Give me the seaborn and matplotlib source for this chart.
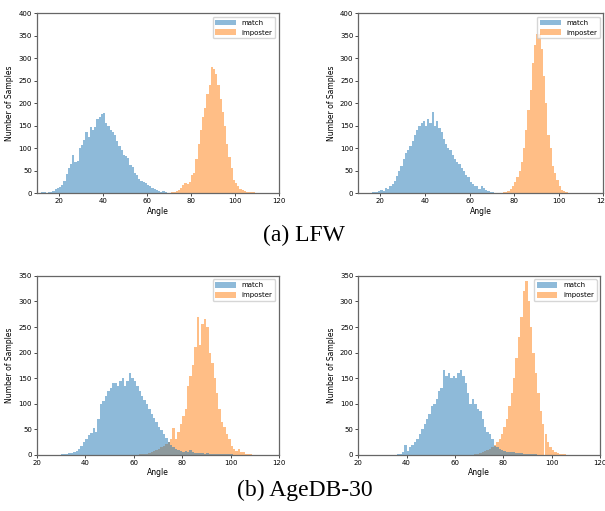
import numpy as np
import pandas as pd
import seaborn as sns
import matplotlib
matplotlib.use("Agg")
import matplotlib.pyplot as plt

# Histogram counts per 1-degree bin
# (a) LFW, left
lfw1_match_start = 12
lfw1_match = [2, 2, 1, 2, 3, 5, 10, 12, 14, 18, 28, 42, 55, 65, 85, 70, 72, 100, 108, 118,
              135, 125, 148, 140, 148, 165, 170, 175, 178, 155, 150, 140, 135, 130, 115, 105,
              95, 85, 82, 78, 62, 58, 45, 40, 32, 28, 25, 22, 18, 15, 12, 10, 8, 5, 3, 4, 2, 1, 1]
lfw1_imp_start = 70
lfw1_imp = [1, 2, 3, 5, 8, 12, 18, 22, 20, 25, 40, 45, 75, 110, 140, 170, 190, 220, 240, 280,
            275, 265, 240, 210, 180, 150, 110, 80, 55, 30, 22, 15, 10, 8, 5, 3, 2, 2, 2, 1, 1]

# (a) LFW, right
lfw2_match_start = 14
lfw2_match = [1, 1, 2, 2, 3, 5, 8, 5, 12, 10, 15, 20, 28, 38, 50, 60, 75, 90, 95, 105, 115,
              130, 140, 150, 155, 160, 150, 165, 155, 180, 150, 160, 145, 135, 120, 110, 100,
              95, 85, 75, 70, 65, 55, 50, 40, 35, 25, 20, 15, 15, 10, 15, 12, 8, 5, 3, 2, 1]
lfw2_imp_start = 74
lfw2_imp = [1, 2, 3, 5, 10, 15, 25, 35, 50, 70, 100, 140, 185, 230, 290, 330, 355, 355, 320,
            260, 200, 130, 100, 60, 45, 30, 15, 8, 5, 3, 1]

# (b) AgeDB-30, left
age1_match_start = 30
age1_match = [1, 1, 2, 3, 4, 6, 8, 12, 18, 25, 30, 38, 42, 52, 45, 70, 100, 105, 115, 125, 130,
              140, 140, 135, 145, 150, 135, 145, 160, 150, 145, 135, 125, 115, 108, 100, 90,
              80, 72, 65, 55, 48, 40, 33, 25, 20, 15, 12, 10, 8, 6, 8, 5, 10, 6, 4, 3, 4, 3,
              2, 3, 2, 2, 2, 1, 2, 1, 1, 1, 1, 1]
age1_imp_start = 62
age1_imp = [1, 1, 2, 2, 3, 5, 7, 10, 12, 15, 18, 22, 25, 30, 52, 30, 45, 60, 75, 90, 135, 155,
            175, 210, 270, 215, 255, 265, 250, 200, 180, 150, 120, 90, 65, 55, 40, 30, 18, 12,
            8, 12, 5, 5, 2, 1, 1]

# (b) AgeDB-30, right
age2_match_start = 36
age2_match = [1, 2, 5, 20, 8, 15, 20, 25, 30, 40, 50, 60, 70, 80, 95, 100, 110, 125, 130, 165,
              155, 160, 150, 155, 150, 160, 165, 155, 140, 120, 100, 110, 100, 90, 85, 70, 55,
              45, 40, 30, 18, 15, 12, 10, 8, 6, 5, 6, 5, 4, 3, 3, 2, 2, 2, 1, 1, 1]
age2_imp_start = 68
age2_imp = [1, 2, 3, 5, 8, 10, 12, 15, 20, 25, 30, 40, 55, 70, 95, 120, 150, 190, 230, 270,
            320, 340, 300, 250, 200, 160, 120, 85, 60, 40, 25, 15, 10, 5, 3, 2, 1, 1]

panels = [
    (lfw1_match_start, lfw1_match, lfw1_imp_start, lfw1_imp, (10, 120), (0, 400)),
    (lfw2_match_start, lfw2_match, lfw2_imp_start, lfw2_imp, (10, 120), (0, 400)),
    (age1_match_start, age1_match, age1_imp_start, age1_imp, (20, 120), (0, 350)),
    (age2_match_start, age2_match, age2_imp_start, age2_imp, (20, 120), (0, 350)),
]
positions = [
    [0.061, 0.622, 0.400, 0.352],
    [0.592, 0.622, 0.405, 0.352],
    [0.061, 0.110, 0.400, 0.350],
    [0.592, 0.110, 0.400, 0.350],
]


def to_frame(start, counts, label):
    centers = start + np.arange(len(counts)) + 0.5
    return pd.DataFrame({"angle": centers, "count": counts, "kind": label})


fig = plt.figure(figsize=(6.05, 5.11), dpi=100)
plt.rcParams["font.size"] = 5

for (ms, m, is_, im, xlim, ylim), pos in zip(panels, positions):
    ax = fig.add_axes(pos)
    df = pd.concat([to_frame(ms, m, "match"), to_frame(is_, im, "imposter")],
                   ignore_index=True)
    lo = min(ms, is_)
    hi = max(ms + len(m), is_ + len(im))
    sns.histplot(data=df, x="angle", weights="count", hue="kind",
                 binwidth=1, binrange=(lo, hi),
                 element="bars", linewidth=0, alpha=0.5, multiple="layer",
                 palette={"match": "#1f77b4", "imposter": "#ff7f0e"}, ax=ax)
    ax.set_xlim(*xlim)
    ax.set_ylim(*ylim)
    ax.set_xlabel("Angle", fontsize=5.5, labelpad=2)
    ax.set_ylabel("Number of Samples", fontsize=5.5, labelpad=3)
    ax.tick_params(labelsize=5, length=2, width=0.5, pad=1.5)
    for s in ax.spines.values():
        s.set_linewidth(0.9)
        s.set_color("#666666")
    sns.move_legend(ax, "upper right", title=None, fontsize=5, frameon=True,
                    borderpad=0.4, handlelength=3.0, handleheight=0.9)

fig.text(0.503, 0.540, "(a) LFW", ha="center", va="center",
         family="Liberation Serif", fontsize=17)
fig.text(0.503, 0.041, "(b) AgeDB-30", ha="center", va="center",
         family="Liberation Serif", fontsize=17)

fig.savefig("out.png", dpi=100)
